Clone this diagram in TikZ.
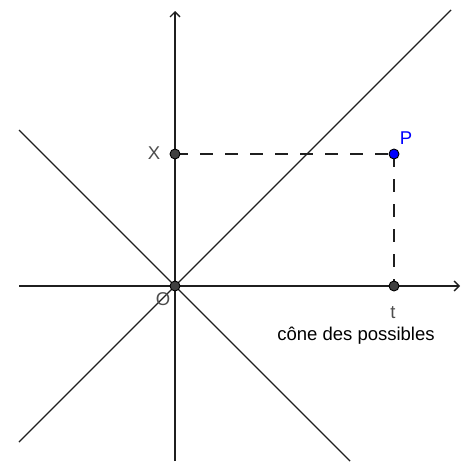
\documentclass[tikz,border=0pt]{standalone}
\usepackage{fontspec}
\setmainfont{Liberation Sans}
\usetikzlibrary{arrows.meta}
\definecolor{linecol}{HTML}{1F1F1F}
\definecolor{ptgray}{HTML}{404040}
\definecolor{labgray}{HTML}{4D4D4D}
\definecolor{pblue}{HTML}{0000FF}
\tikzset{
  axisline/.style={draw=linecol, line width=1.5pt, -{Straight Barb[length=5pt,width=10pt,line width=1.3pt]}},
  plainline/.style={draw=linecol, line width=1.4pt},
  dashline/.style={draw=linecol, line width=1.4pt, dash pattern=on 13pt off 12pt},
  pt/.style={circle, draw=black, line width=0.9pt, fill=ptgray, minimum size=10pt, inner sep=0pt},
  bluept/.style={pt, fill=pblue},
  lab/.style={font=\fontsize{18.5}{21}\selectfont, inner sep=0pt, anchor=base, text=labgray},
}
\begin{document}
\begin{tikzpicture}[x=1pt, y=-1pt]
\useasboundingbox (0,0) rectangle (468,461);
% coordinates
\coordinate (axL) at (19,286);
\coordinate (axR) at (460,286);
\coordinate (ayB) at (175,461);
\coordinate (ayT) at (175,11);
\coordinate (d1a) at (19,442);
\coordinate (d1b) at (451,10);
\coordinate (d2a) at (19,130);
\coordinate (d2b) at (350,461);
\coordinate (cO) at (175,286);
\coordinate (cX) at (175,154);
\coordinate (cP) at (394,154);
\coordinate (cT) at (394,286);
% lines
\draw[plainline] (d1a) -- (d1b);
\draw[plainline] (d2a) -- (d2b);
\draw[axisline] (axL) -- (axR);
\draw[axisline] (ayB) -- (ayT);
\draw[dashline] (cX) -- (cP);
\draw[dashline] (cP) -- (cT);
% points
\node[pt] (O) at (cO) {};
\node[pt] (X) at (cX) {};
\node[pt] (T) at (cT) {};
\node[bluept] (P) at (cP) {};
% labels
\node[lab] (labX) at (154,159.5) {X};
\node[lab, text=pblue] (labP) at (406,144.5) {P};
\node[lab] (labT) at (393,318.5) {t};
\node[lab] (labO) at (163,305.5) {O};
\node[lab, text=black] (cone) at (356,340.5) {cône des possibles};
\end{tikzpicture}
\end{document}
